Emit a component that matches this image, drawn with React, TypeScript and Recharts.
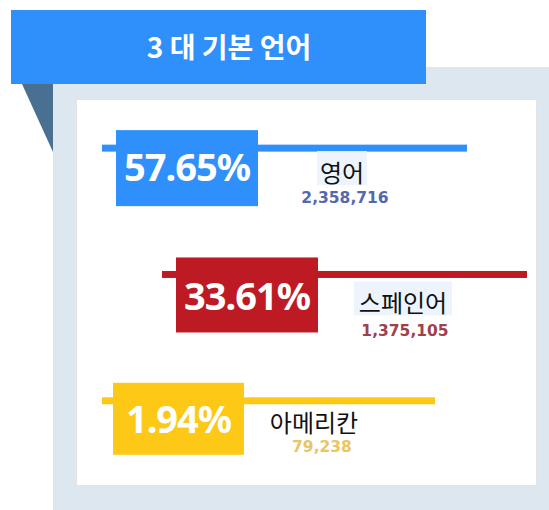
import React from 'react';
import { BarChart, Bar, XAxis, YAxis } from 'recharts';

const languages = ['영어', '스페인어', '아메리칸'];
const shares = [57.65, 33.61, 1.94];
const speakers = [2358716, 1375105, 79238];

const TITLE = '3 대 기본 언어';

// decoration per row (the infographic is not drawn to scale)
const rowStyle = [
    { color: '#3090fb', valueColor: '#5468b0', lineFrom: 102, lineTo: 467, boxX: 116, boxW: 142, boxTop: -18, boxBottom: 58, pct: 33, labelX: 342, label: 34, labelBg: true, valueX: 345, value: 55 },
    { color: '#be1a24', valueColor: '#a1404b', lineFrom: 162, lineTo: 527, boxX: 176, boxW: 142, boxTop: -17, boxBottom: 58, pct: 36, labelX: 403, label: 38, labelBg: true, valueX: 405, value: 62 },
    { color: '#fec916', valueColor: '#e8c664', lineFrom: 102, lineTo: 435, boxX: 113, boxW: 131, boxTop: -18, boxBottom: 54, pct: 32, labelX: 314, label: 31, labelBg: false, valueX: 322, value: 51 },
];

const data = languages.map((name, i) => ({ name, share: shares[i], speakers: speakers[i], row: i }));

const RowShape = (props: any) => {
    const { y, height, payload } = props;
    const s = rowStyle[payload.row];
    const cy = y + height / 2;
    const labelW = payload.name.length * 24 + 2;
    return (
        <g>
            <rect x={s.lineFrom} y={cy - 3.5} width={s.lineTo - s.lineFrom} height={7} fill={s.color} />
            <rect x={s.boxX} y={cy + s.boxTop} width={s.boxW} height={s.boxBottom - s.boxTop} fill={s.color} />
            <text x={s.boxX + s.boxW / 2} y={cy + s.pct} textAnchor="middle" fill="#fff"
                fontFamily="'Noto Sans', sans-serif" fontWeight={700} fontSize={38} letterSpacing={-1}>
                {payload.share.toFixed(2)}%
            </text>
            {s.labelBg && (
                <rect x={s.labelX - labelW / 2} y={cy + s.label - 31} width={labelW} height={34} fill="#edf4fd" />
            )}
            <text x={s.labelX} y={cy + s.label} textAnchor="middle" fill="#111"
                fontFamily="'Noto Sans CJK KR', sans-serif" fontSize={24}>
                {payload.name}
            </text>
            <text x={s.valueX} y={cy + s.value} textAnchor="middle" fill={s.valueColor}
                fontFamily="'DejaVu Sans', sans-serif" fontWeight={700} fontSize={15.5}>
                {payload.speakers.toLocaleString('en-US')}
            </text>
        </g>
    );
};

export default function App() {
    return (
        <div style={{ position: 'absolute', left: 0, top: 0, width: 549, height: 510, background: '#fff', overflow: 'hidden' }}>
            <svg width={549} height={510} style={{ position: 'absolute', left: 0, top: 0 }}>
                <rect x={53} y={67} width={496} height={443} fill="#dce7f0" />
                <rect x={76} y={99} width={461} height={387} fill="#e3e3e3" />
                <rect x={77} y={100} width={459} height={385} fill="#fff" />
                <polygon points="22,84 53,84 53,152" fill="#4a7091" />
                <rect x={11} y={10} width={415} height={74} fill="#3090fb" />
                <text x={229} y={58} textAnchor="middle" fill="#fff"
                    fontFamily="'Noto Sans CJK KR', sans-serif" fontWeight={700} fontSize={28}>
                    {TITLE}
                </text>
            </svg>
            <div style={{ position: 'absolute', left: 0, top: 0 }}>
                <BarChart width={549} height={510} data={data} layout="vertical"
                    margin={{ top: 85, right: 0, bottom: 46, left: 0 }}>
                    <XAxis type="number" hide domain={[0, 100]} />
                    <YAxis type="category" dataKey="name" hide />
                    <Bar dataKey="share" shape={<RowShape />} isAnimationActive={false} />
                </BarChart>
            </div>
        </div>
    );
}
